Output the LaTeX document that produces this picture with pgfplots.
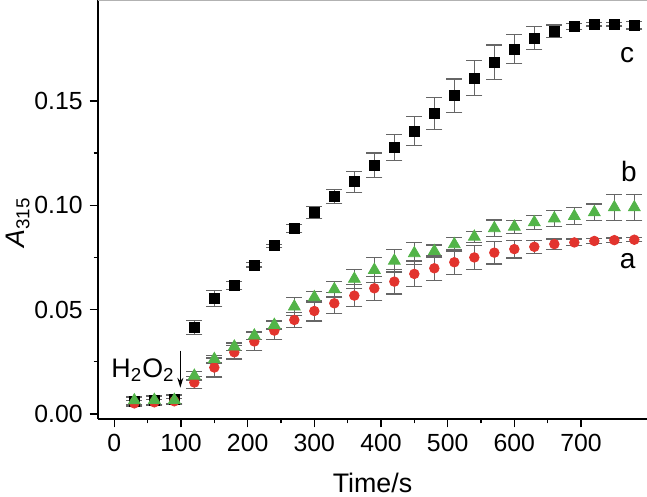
\documentclass[border=0pt]{standalone}
\usepackage{pgfplots}
\pgfplotsset{compat=1.18}
\usepackage{fontspec}
\setmainfont{Liberation Sans}
\usetikzlibrary{arrows.meta}

\definecolor{cred}{RGB}{226,52,46}
\definecolor{cgreen}{RGB}{82,180,72}

\pgfplotsset{
  every tick label/.append style={font=\fontsize{12.4}{14}\selectfont},
  every x tick label/.append style={anchor=base, inner sep=0pt, yshift=-11.8pt},
  every y tick label/.append style={anchor=east, inner sep=0pt, xshift=-3.3pt},
}

\begin{document}
\fontsize{12.4}{14}\selectfont
\begin{tikzpicture}
\begin{axis}[
  scale only axis,
  width=274.5pt, height=209.5pt,
  xmin=-24.5, xmax=799,
  ymin=-0.0025, ymax=0.1985,
  axis x line*=bottom, axis y line*=left,
  axis line style={line width=1pt},
  xtick={0,100,200,300,400,500,600,700},
  xticklabels={0,100,200,300,400,500,600,700},
  ytick={0,0.05,0.10,0.15},
  yticklabels={0.00,0.05,0.10,0.15},
  scaled ticks=false,
  minor x tick num=1, minor y tick num=1,
  tick align=outside,
  major tick length=4.2pt, minor tick length=2.2pt,
  tick style={black, line width=0.8pt},
  xlabel={Time/s},
  ylabel={\textit{A}\textsubscript{315}},
  every axis x label/.style={at={(axis description cs:0.5,0)}, anchor=base, yshift=-36.5pt, font=\fontsize{13.4}{15}\selectfont},
  every axis y label/.style={at={(axis description cs:-0.1457,0.469)}, rotate=90, anchor=center, font=\fontsize{13.4}{15}\selectfont},
  error bars/y dir=both, error bars/y explicit,
  error bars/error mark options={rotate=90, mark size=4pt, line width=0.6pt, black!60},
  error bars/error bar style={line width=0.6pt, black!60},
  clip=false,
]
% c
\addplot[only marks, mark=square*, mark size=2.5pt, black] coordinates {
(30,0.0060) +- (0,0.002) (60,0.0065) +- (0,0.002) (90,0.0070) +- (0,0.002)
(120,0.0415) +- (0,0.0033) (150,0.0554) +- (0,0.0038) (180,0.0615) +- (0,0.002)
(210,0.0714) +- (0,0.001) (240,0.0806) +- (0,0.0008) (270,0.0888) +- (0,0.002)
(300,0.0966) +- (0,0.003) (330,0.1041) +- (0,0.0034) (360,0.1113) +- (0,0.005)
(390,0.1193) +- (0,0.0058) (420,0.1276) +- (0,0.0062) (450,0.1356) +- (0,0.007)
(480,0.1440) +- (0,0.0076) (510,0.1525) +- (0,0.0081) (540,0.1611) +- (0,0.0084)
(570,0.1686) +- (0,0.0083) (600,0.1749) +- (0,0.0069) (630,0.1803) +- (0,0.0056)
(660,0.1835) +- (0,0.003) (690,0.1859) +- (0,0.0014) (720,0.1868) +- (0,0.0008)
(750,0.1868) +- (0,0.0008) (780,0.1863) +- (0,0.0017)
};
% a
\addplot[only marks, mark=*, mark size=2.4pt, cred] coordinates {
(30,0.0050) +- (0,0.0015) (60,0.0055) +- (0,0.0015) (90,0.0060) +- (0,0.0015)
(120,0.0150) +- (0,0.003) (150,0.0222) +- (0,0.0046) (180,0.0295) +- (0,0.0032)
(210,0.0347) +- (0,0.0043) (240,0.0399) +- (0,0.0042) (270,0.0450) +- (0,0.0037)
(300,0.0493) +- (0,0.0048) (330,0.0530) +- (0,0.005) (360,0.0567) +- (0,0.0053)
(390,0.0602) +- (0,0.0058) (420,0.0634) +- (0,0.0059) (450,0.0671) +- (0,0.0062)
(480,0.0698) +- (0,0.0059) (510,0.0727) +- (0,0.0059) (540,0.0750) +- (0,0.0058)
(570,0.0773) +- (0,0.0054) (600,0.0790) +- (0,0.0043) (630,0.0801) +- (0,0.0032)
(660,0.0814) +- (0,0.0024) (690,0.0822) +- (0,0.0016) (720,0.0829) +- (0,0.0011)
(750,0.0833) +- (0,0.001) (780,0.0835) +- (0,0.001)
};
% b
\addplot[only marks, mark=triangle*, mark size=3.4pt, cgreen] coordinates {
(30,0.0064) +- (0,0.002) (60,0.0066) +- (0,0.002) (90,0.0066) +- (0,0.002)
(120,0.0182) +- (0,0.002) (150,0.0262) +- (0,0.0018) (180,0.0322) +- (0,0.0018)
(210,0.0375) +- (0,0.0019) (240,0.0426) +- (0,0.0019) (270,0.0514) +- (0,0.0043)
(300,0.0559) +- (0,0.0027) (330,0.0597) +- (0,0.0037) (360,0.0647) +- (0,0.0046)
(390,0.0690) +- (0,0.0059) (420,0.0734) +- (0,0.0054) (450,0.0770) +- (0,0.0053)
(480,0.0780) +- (0,0.003) (510,0.0813) +- (0,0.0032) (540,0.0849) +- (0,0.0027)
(570,0.0890) +- (0,0.004) (600,0.0897) +- (0,0.0032) (630,0.0918) +- (0,0.0035)
(660,0.0937) +- (0,0.0037) (690,0.0948) +- (0,0.004) (720,0.0966) +- (0,0.004)
(750,0.0990) +- (0,0.0062) (780,0.0990) +- (0,0.0062)
};
\draw[black!30, line width=1pt] (rel axis cs:0,1) -- (rel axis cs:1,1);
\node[font=\fontsize{14}{16}\selectfont] at (axis cs:769,0.172) {c};
\node[font=\fontsize{14}{16}\selectfont] at (axis cs:772,0.116) {b};
\node[font=\fontsize{14}{16}\selectfont] at (axis cs:770,0.0734) {a};
\node[font=\fontsize{13.4}{15}\selectfont] at (axis cs:43,0.021) {H\textsubscript{2}O\textsubscript{2}};
\draw[-{Stealth[length=5pt,width=3pt]}, line width=0.6pt] (axis cs:99,0.0303) -- (axis cs:99,0.0125);
\end{axis}
\pgfresetboundingbox
\useasboundingbox (-49pt,-39pt) rectangle (274.5pt,209.5pt);
\end{tikzpicture}
\end{document}
